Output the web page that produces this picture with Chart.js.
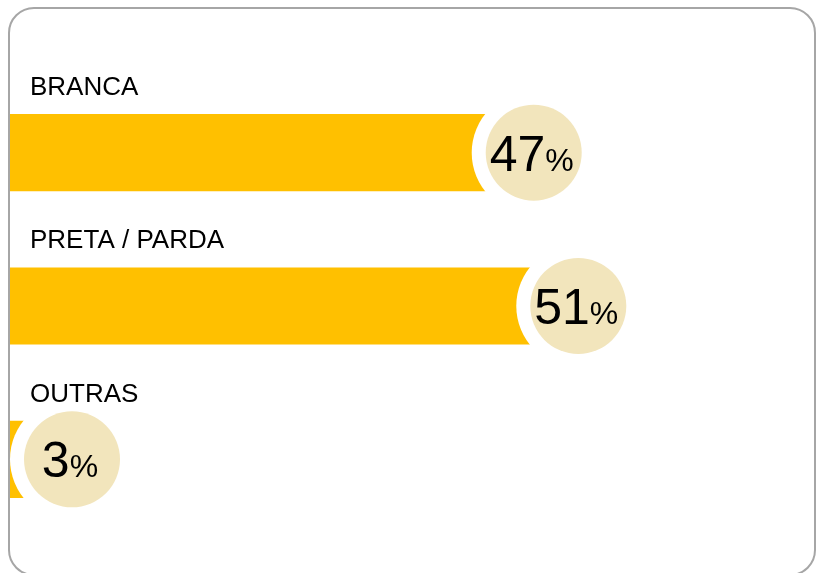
<!DOCTYPE html>
<html>
<head>
<meta charset="utf-8">
<script src="https://cdn.jsdelivr.net/npm/chart.js@4.4.1/dist/chart.umd.min.js"></script>
<style>
  html, body { margin: 0; padding: 0; background: #ffffff; }
  #wrap { position: relative; width: 816px; height: 573px; overflow: hidden; }
  #frame {
    position: absolute; left: 8px; top: 7px; width: 808px; height: 569px;
    box-sizing: border-box; border: 2px solid #a6a6a6; border-radius: 26px;
  }
  #raceChart { position: absolute; left: 0; top: 0; }
</style>
</head>
<body>
<div id="wrap">
  <div id="frame"></div>
  <canvas id="raceChart" width="816" height="573"></canvas>
</div>
<script>
//Chart Data
const categories = ['BRANCA', 'PRETA / PARDA', 'OUTRAS'];
const percentValues = [47, 51, 3];

const barColor = '#FFC000';
const bubbleColor = '#F2E5BC';

//Percent bubble at each bar end, category label above each bar
const bubblePlugin = {
  id: 'bubbles',
  afterDatasetsDraw(chart) {
    const ctx = chart.ctx;
    const area = chart.chartArea;
    const meta = chart.getDatasetMeta(0);
    const bigFont = '50px "Liberation Sans", Arial, sans-serif';
    const smallFont = '32px "Liberation Sans", Arial, sans-serif';

    ctx.save();
    meta.data.forEach((bar, i) => {
      //Bubble sits at the bar end, kept inside the frame for small values
      const cx = Math.max(bar.x, area.left + 62);
      const cy = bar.y;

      ctx.beginPath();
      ctx.arc(cx, cy, 62, 0, Math.PI * 2);
      ctx.fillStyle = '#ffffff';
      ctx.fill();

      ctx.beginPath();
      ctx.arc(cx, cy, 48, 0, Math.PI * 2);
      ctx.fillStyle = bubbleColor;
      ctx.fill();

      //Value text: big number with smaller percent sign
      const num = String(chart.data.datasets[0].data[i]);
      ctx.font = bigFont;
      const wNum = ctx.measureText(num).width;
      ctx.font = smallFont;
      const wPct = ctx.measureText('%').width;
      const startX = cx - (wNum + wPct) / 2 - 2;
      const baseY = cy + 18;

      ctx.fillStyle = '#000000';
      ctx.textAlign = 'left';
      ctx.textBaseline = 'alphabetic';
      ctx.font = bigFont;
      ctx.fillText(num, startX, baseY);
      ctx.font = smallFont;
      ctx.fillText('%', startX + wNum, baseY);
    });

    //Labels last so the white rings never cover them
    ctx.fillStyle = '#000000';
    ctx.font = '26px "Liberation Sans", Arial, sans-serif';
    meta.data.forEach((bar, i) => {
      ctx.fillText(chart.data.labels[i], area.left + 20, bar.y - bar.height / 2 - 19);
    });
    ctx.restore();
  }
};

//Create Bar Chart
function createChart() {
  const chartContext = document.getElementById('raceChart').getContext('2d');

  /* global Chart */
  return new Chart(chartContext, {
    type: 'bar',
    data: {
      labels: categories,
      datasets: [{
        data: percentValues,
        backgroundColor: barColor,
        borderWidth: 0,
        barPercentage: 0.503,
        categoryPercentage: 1
      }]
    },
    options: {
      indexAxis: 'y',
      responsive: false,
      animation: false,
      layout: {
        padding: { left: 10, right: 26, top: 76, bottom: 37 }
      },
      scales: {
        x: { display: false, min: 0, max: 70, grid: { display: false } },
        y: { display: false, grid: { display: false } }
      },
      plugins: {
        legend: { display: false },
        tooltip: { enabled: false }
      }
    },
    plugins: [bubblePlugin]
  });
}

document.addEventListener('DOMContentLoaded', createChart);
</script>
</body>
</html>
